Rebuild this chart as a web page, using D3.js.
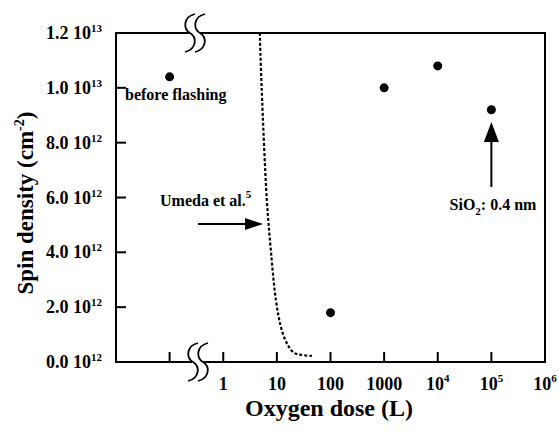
<!DOCTYPE html>
<html>
<head>
<meta charset="utf-8">
<script src="https://cdn.jsdelivr.net/npm/d3@7"></script>
<style>
  body { margin: 0; background: #fff; }
  text { font-family: "Liberation Serif", "Times New Roman", serif; font-weight: bold; fill: #000; }
</style>
</head>
<body>
<div id="chart"></div>
<script>
// measured points (dose in Langmuir, spin density in cm^-2)
const doses = [100, 1000, 1e4, 1e5];
const densities = [1.8e12, 1.0e13, 1.08e13, 9.2e12];
// "before flashing" sample, plotted on the broken part of the axis
const beforeDensity = 1.04e13;
const beforePos = 0.1;

// Umeda et al. curve (dotted)
const umedaDose = [4.8, 5.2, 6.5, 7.7, 9.6, 12.3, 16, 21, 29, 45];
const umedaDensity = [1.2e13, 1.0e13, 5.9e12, 4.1e12, 2.26e12, 1.17e12, 0.62e12, 0.33e12, 0.26e12, 0.22e12];

// axis ticks
const yTicks = [0, 2e12, 4e12, 6e12, 8e12, 1e13, 1.2e13];
const yTickLabels = [["0.0 10", "12"], ["2.0 10", "12"], ["4.0 10", "12"], ["6.0 10", "12"], ["8.0 10", "12"], ["1.0 10", "13"], ["1.2 10", "13"]];
const xTicks = [1, 10, 100, 1000, 1e4, 1e5, 1e6];
const xTickLabels = [["1", ""], ["10", ""], ["100", ""], ["1000", ""], ["10", "4"], ["10", "5"], ["10", "6"]];

const width = 558, height = 434;
const margin = {top: 33, right: 13, bottom: 72, left: 116};
const innerW = width - margin.left - margin.right;
const innerH = height - margin.top - margin.bottom;

const svg = d3.select('#chart').append('svg')
  .attr('width', width).attr('height', height);

const g = svg.append('g').attr('transform', `translate(${margin.left},${margin.top})`);

const x = d3.scaleLog().domain([1e-2, 1e6]).range([0, innerW]);
const y = d3.scaleLinear().domain([0, 1.2e13]).range([innerH, 0]);

// frame
g.append('rect')
  .attr('width', innerW).attr('height', innerH)
  .attr('fill', 'none').attr('stroke', '#000').attr('stroke-width', 2);

// y ticks (inward)
g.selectAll('.ytick').data(yTicks.slice(1, -1)).enter().append('line')
  .attr('x1', 0).attr('x2', 10)
  .attr('y1', d => y(d)).attr('y2', d => y(d))
  .attr('stroke', '#000').attr('stroke-width', 2);

// x ticks (inward), including the before-flashing position
g.selectAll('.xtick').data([beforePos].concat(xTicks.slice(0, -1))).enter().append('line')
  .attr('x1', d => x(d)).attr('x2', d => x(d))
  .attr('y1', innerH).attr('y2', innerH - 10)
  .attr('stroke', '#000').attr('stroke-width', 2);

// y tick labels
const yl = g.selectAll('.ylab').data(yTicks).enter().append('text')
  .attr('x', -14).attr('y', d => y(d) + 6)
  .attr('text-anchor', 'end').attr('font-size', 18);
yl.append('tspan').text((d, i) => yTickLabels[i][0]);
yl.append('tspan').attr('dy', -7).attr('font-size', 11).text((d, i) => yTickLabels[i][1]);

// x tick labels
const xl = g.selectAll('.xlab').data(xTicks).enter().append('text')
  .attr('x', d => x(d)).attr('y', innerH + 28)
  .attr('text-anchor', 'middle').attr('font-size', 18);
xl.append('tspan').text((d, i) => xTickLabels[i][0]);
xl.filter((d, i) => xTickLabels[i][1] !== '')
  .append('tspan').attr('dy', -8).attr('font-size', 11).text((d, i) => xTickLabels[xTicks.indexOf(d)][1]);

// axis titles
svg.append('text')
  .attr('x', 329).attr('y', 416)
  .attr('text-anchor', 'middle').attr('font-size', 24)
  .text('Oxygen dose (L)');

const yt = svg.append('text')
  .attr('transform', 'translate(33,203) rotate(-90)')
  .attr('text-anchor', 'middle').attr('font-size', 23);
yt.append('tspan').text('Spin density (cm');
yt.append('tspan').attr('dy', -9).attr('font-size', 14).text('-2');
yt.append('tspan').attr('dy', 9).text(')');

// axis break marks
function breakMark(cx, cy) {
  const s = (ox) => `M${cx + ox + 5},${cy - 19} C${cx + ox - 7},${cy - 16} ${cx + ox - 7},${cy - 4} ${cx + ox},${cy} C${cx + ox + 7},${cy + 4} ${cx + ox + 7},${cy + 16} ${cx + ox - 5},${cy + 19}`;
  svg.append('rect').attr('x', cx - 1).attr('y', cy - 3).attr('width', 11).attr('height', 6).attr('fill', '#fff');
  svg.append('path').attr('d', s(0)).attr('fill', 'none').attr('stroke', '#000').attr('stroke-width', 1.8);
  svg.append('path').attr('d', s(10)).attr('fill', 'none').attr('stroke', '#000').attr('stroke-width', 1.8);
}
breakMark(190, margin.top);
breakMark(193, margin.top + innerH);

// Umeda curve
g.append('path')
  .datum(umedaDose.map((d, i) => [d, umedaDensity[i]]))
  .attr('d', d3.line().x(d => x(d[0])).y(d => y(d[1])).curve(d3.curveCatmullRom))
  .attr('fill', 'none').attr('stroke', '#000').attr('stroke-width', 2.2)
  .attr('stroke-dasharray', '3,2');

// points
g.append('circle').attr('cx', x(beforePos)).attr('cy', y(beforeDensity)).attr('r', 4.5).attr('fill', '#000');
g.selectAll('.pt').data(doses).enter().append('circle')
  .attr('cx', d => x(d)).attr('cy', (d, i) => y(densities[i])).attr('r', 4.5).attr('fill', '#000');

// annotations
svg.append('text').attr('x', 125).attr('y', 100).attr('font-size', 16).text('before flashing');

const um = svg.append('text').attr('x', 160).attr('y', 206).attr('font-size', 16);
um.append('tspan').text('Umeda et al.');
um.append('tspan').attr('dy', -8).attr('font-size', 11).text('5');

svg.append('line').attr('x1', 198).attr('x2', 247).attr('y1', 224).attr('y2', 224)
  .attr('stroke', '#000').attr('stroke-width', 2);
svg.append('path').attr('d', 'M245,218 L263,224 L245,230 Z').attr('fill', '#000');

const si = svg.append('text').attr('x', 493).attr('y', 210).attr('font-size', 16).attr('text-anchor', 'middle');
si.append('tspan').text('SiO');
si.append('tspan').attr('dy', 5).attr('font-size', 11).text('2');
si.append('tspan').attr('dy', -5).text(': 0.4 nm');

const ax = x(1e5) + margin.left;
svg.append('line').attr('x1', ax).attr('x2', ax).attr('y1', 140).attr('y2', 187)
  .attr('stroke', '#000').attr('stroke-width', 2);
svg.append('path').attr('d', `M${ax - 7.5},142 L${ax},122 L${ax + 7.5},142 Z`).attr('fill', '#000');
</script>
</body>
</html>
